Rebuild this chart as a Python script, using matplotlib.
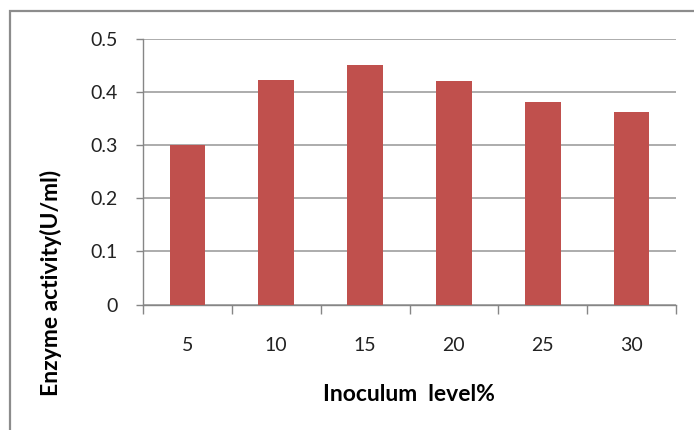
import numpy as np
import matplotlib.pyplot as plt
from matplotlib.patches import Rectangle

# data
levels = ["5", "10", "15", "20", "25", "30"]
activity = [0.30, 0.422, 0.451, 0.42, 0.381, 0.362]
yticks = [0, 0.1, 0.2, 0.3, 0.4, 0.5]
ytick_labels = ["0", "0.1", "0.2", "0.3", "0.4", "0.5"]

plt.rcParams['font.family'] = ['Lato', 'DejaVu Sans']

fig = plt.figure(figsize=(6.94, 4.30), dpi=100)
ax = fig.add_axes([143/694, 1-304.5/430, (676-143)/694, (304.5-39)/430])

grid_col = "#a6a6a6"
x = np.arange(len(levels))
ax.bar(x, activity, width=0.4, color="#c0504d", zorder=3)

ax.set_xlim(-0.5, len(levels)-0.5)
ax.set_ylim(0, 0.5)
ax.set_yticks(yticks)
ax.set_yticklabels(ytick_labels)
ax.yaxis.grid(True, color=grid_col, linewidth=1.3)
ax.set_axisbelow(True)

ax.set_xticks(x)
ax.set_xticklabels(levels)
ax.set_xticks(np.arange(len(levels)+1)-0.5, minor=True)
ax.tick_params(axis='x', which='major', length=0, pad=23.5, labelsize=14, labelcolor="#222222")
ax.tick_params(axis='x', which='minor', length=6.5, width=1, color="#868686", direction='out')
ax.tick_params(axis='y', length=5, width=1, color="#868686", pad=13, labelsize=14, labelcolor="#222222")

for s in ["top", "right"]:
    ax.spines[s].set_visible(False)
for s in ["left", "bottom"]:
    ax.spines[s].set_color("#868686")
    ax.spines[s].set_linewidth(1)

fig.text(409/694, 1-401/430, "Inoculum  level%", ha='center', va='baseline',
         fontsize=16.5, fontweight='bold')
fig.text(51/694, 1-282.5/430, "Enzyme activity(U/ml)", ha='center', va='center',
         rotation=90, fontsize=16.5, fontweight='bold')

# outer frame (only the top and left edges show)
fig.patches.append(Rectangle((10/694, -0.2), 1.2, 1.2 - 11/430 ,
                             transform=fig.transFigure, fill=False,
                             edgecolor="#8c8c8c", linewidth=1.6))

fig.savefig("out.png", dpi=100)
